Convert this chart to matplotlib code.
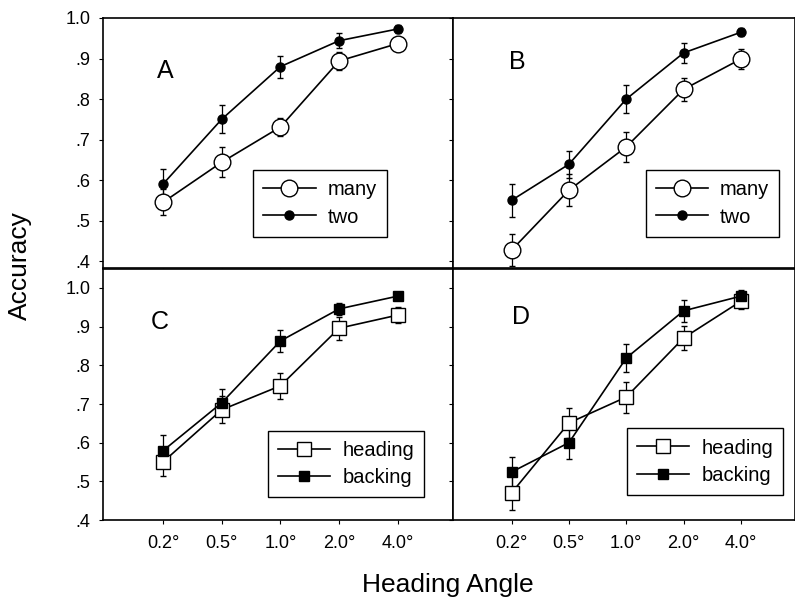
"""
Accuracy by heading angle, four panels (A-D).
"""
import matplotlib
matplotlib.use("Agg")
import matplotlib.pyplot as plt

plt.rcParams["font.family"] = ["Liberation Sans", "DejaVu Sans"]

# ── data ──────────────────────────────────────────────────────────────────────
angles = ["0.2°", "0.5°", "1.0°", "2.0°", "4.0°"]
ytick_vals = [0.4, 0.5, 0.6, 0.7, 0.8, 0.9, 1.0]
ytick_labels = [".4", ".5", ".6", ".7", ".8", ".9", "1.0"]

a_many = [0.545, 0.644, 0.731, 0.894, 0.937]
a_many_err = [0.032, 0.037, 0.023, 0.022, 0.015]
a_two = [0.590, 0.750, 0.880, 0.944, 0.973]
a_two_err = [0.037, 0.035, 0.027, 0.018, 0.010]

b_many = [0.427, 0.575, 0.682, 0.824, 0.899]
b_many_err = [0.040, 0.040, 0.037, 0.029, 0.025]
b_two = [0.550, 0.639, 0.800, 0.914, 0.965]
b_two_err = [0.040, 0.033, 0.035, 0.025, 0.010]

c_heading = [0.550, 0.685, 0.747, 0.896, 0.930]
c_heading_err = [0.035, 0.035, 0.034, 0.030, 0.020]
c_backing = [0.579, 0.703, 0.863, 0.946, 0.979]
c_backing_err = [0.040, 0.035, 0.028, 0.015, 0.010]

d_heading = [0.470, 0.651, 0.718, 0.871, 0.966]
d_heading_err = [0.044, 0.038, 0.040, 0.032, 0.020]
d_backing = [0.524, 0.600, 0.819, 0.941, 0.979]
d_backing_err = [0.040, 0.043, 0.037, 0.028, 0.015]

LW = 1.2


def draw_panel(ax, open_y, open_err, open_lab, fill_y, fill_err, fill_lab,
               marker, letter, letter_xy, leg_xy, ylim):
    x = list(range(len(angles)))
    if marker == "o":
        ms_open, ms_fill = 12, 6.5
    else:
        ms_open, ms_fill = 10.5, 7
    # error bars first, then the lines with markers on top
    ax.errorbar(x, open_y, yerr=open_err, fmt="none", ecolor="black",
                capsize=2.5, elinewidth=0.9, zorder=2)
    ax.errorbar(x, fill_y, yerr=fill_err, fmt="none", ecolor="black",
                capsize=2.5, elinewidth=0.9, zorder=2)
    h_open, = ax.plot(x, open_y, color="black", lw=LW, marker=marker,
                      ms=ms_open, mfc="white", mec="black", mew=1.0,
                      label=open_lab, zorder=3)
    h_fill, = ax.plot(x, fill_y, color="black", lw=LW, marker=marker,
                      ms=ms_fill, mfc="black", mec="black",
                      label=fill_lab, zorder=4)
    ax.set_xlim(-1.02, 4.94)
    ax.set_ylim(*ylim)
    ax.set_xticks(x)
    ax.set_yticks(ytick_vals)
    ax.tick_params(direction="out", length=3, width=0.8, labelsize=13)
    ax.tick_params(axis="y", pad=6)
    for s in ax.spines.values():
        s.set_linewidth(1.2)
    ax.text(letter_xy[0], letter_xy[1], letter, transform=ax.transAxes,
            fontsize=18, ha="center", va="center")
    leg = ax.legend(handles=[h_open, h_fill], loc="center",
                    bbox_to_anchor=leg_xy, fontsize=14.5,
                    handlelength=2.6, handletextpad=0.6, borderpad=0.5,
                    labelspacing=0.4, fancybox=False, framealpha=1,
                    edgecolor="black")
    leg.get_frame().set_linewidth(1.0)


fig = plt.figure(figsize=(7.95, 6.0), dpi=100)
ax_a = fig.add_axes([0.1296, 0.5533, 0.4403, 0.4167])
ax_b = fig.add_axes([0.5698, 0.5533, 0.4302, 0.4167])
ax_c = fig.add_axes([0.1296, 0.1333, 0.4403, 0.4183])
ax_d = fig.add_axes([0.5698, 0.1333, 0.4302, 0.4183])

top_lim = (0.383, 1.0)
bot_lim = (0.4, 1.049)

draw_panel(ax_a, a_many, a_many_err, "many", a_two, a_two_err, "two",
           "o", "A", (0.177, 0.79), (0.62, 0.258), top_lim)
draw_panel(ax_b, b_many, b_many_err, "many", b_two, b_two_err, "two",
           "o", "B", (0.187, 0.824), (0.759, 0.258), top_lim)
draw_panel(ax_c, c_heading, c_heading_err, "heading", c_backing, c_backing_err,
           "backing", "s", "C", (0.163, 0.789), (0.694, 0.223), bot_lim)
draw_panel(ax_d, d_heading, d_heading_err, "heading", d_backing, d_backing_err,
           "backing", "s", "D", (0.2, 0.81), (0.737, 0.233), bot_lim)

for ax in (ax_a, ax_c):
    ax.set_yticklabels(ytick_labels)
for ax in (ax_b, ax_d):
    ax.set_yticklabels([])
for ax in (ax_a, ax_b):
    ax.set_xticklabels([])
for ax in (ax_c, ax_d):
    ax.set_xticklabels(angles)
    ax.tick_params(axis="x", pad=8)

fig.text(0.563, 0.025, "Heading Angle", fontsize=19, ha="center", va="center")
fig.text(0.025, 0.557, "Accuracy", fontsize=19, rotation=90,
         ha="center", va="center")

fig.savefig("out.png", dpi=100)
